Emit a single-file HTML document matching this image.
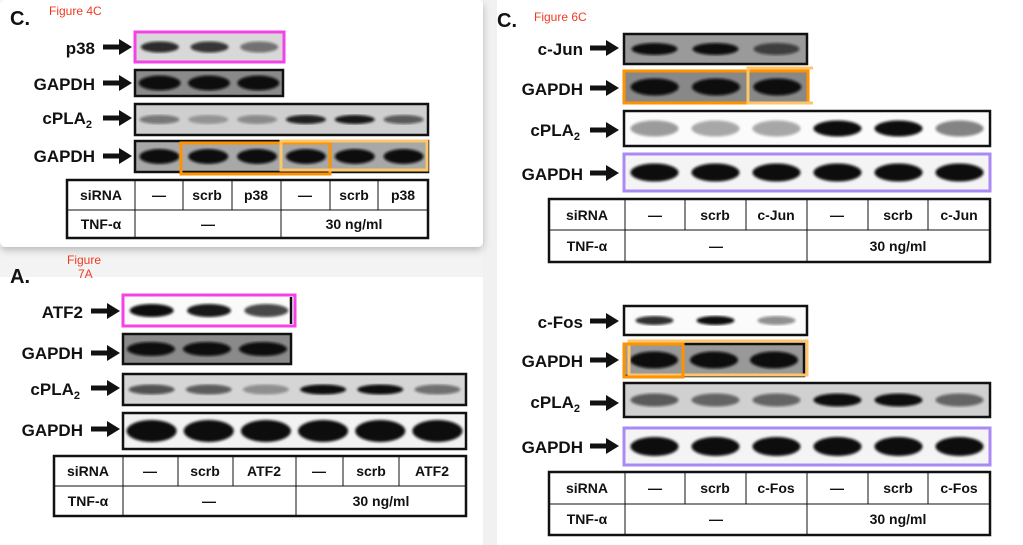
<!DOCTYPE html>
<html><head><meta charset="utf-8"><style>
body{margin:0;width:1023px;height:545px;background:#fff;overflow:hidden;font-family:"Liberation Sans",Arial,sans-serif}
svg{position:absolute;left:0;top:0}
.l{font-weight:bold;font-size:17px;text-anchor:end;fill:#111}
.t{font-weight:bold;font-size:14px;text-anchor:middle;fill:#111}
.r{fill:#f03a20;font-size:12px}
.h{font-weight:bold;font-size:20px;fill:#111}
</style></head><body>
<svg width="1023" height="545" viewBox="0 0 1023 545" xmlns="http://www.w3.org/2000/svg">
<defs>
<filter id="sh" x="-5%" y="-5%" width="110%" height="120%"><feDropShadow dx="0" dy="3" stdDeviation="4" flood-color="#000" flood-opacity="0.25"/></filter>
<filter id="bl"><feGaussianBlur stdDeviation="1.2"/></filter>
</defs>
<rect x="483" y="0" width="14" height="545" fill="#f1f1f1"/>
<rect x="0" y="247" width="483" height="30" fill="#f3f3f3"/>
<g><text class="r" x="67" y="264">Figure</text><text class="r" x="78" y="278">7A</text></g>
<rect x="0" y="0" width="483" height="247" rx="6" fill="#fff" filter="url(#sh)"/>
<g id="bands"></g>
<g id="frames" fill="none" stroke="#111" stroke-width="2.5">
 <rect x="135" y="70" width="148" height="26"/>
 <rect x="135" y="104" width="293" height="31"/>
 <rect x="135" y="141" width="293" height="31"/>
 <rect x="123" y="334" width="168" height="30"/>
 <rect x="123" y="374" width="343" height="31"/>
 <rect x="123" y="413" width="343" height="36"/>
 <line x1="291" y1="297" x2="291" y2="324"/>
 <rect x="624" y="34" width="183" height="30"/>
 <rect x="624" y="111" width="366" height="35"/>
 <rect x="624" y="306" width="183" height="29"/>
 <rect x="624" y="383" width="366" height="34"/>
 <rect x="624" y="344" width="180" height="32"/>
</g>
<g fill="none" stroke-width="3">
 <rect x="135" y="32" width="149" height="30" stroke="#f542e8"/>
 <rect x="181" y="143" width="149" height="31" stroke="#ff9200"/>
 <rect x="281" y="141" width="146" height="29" stroke="#fdc66a"/>
 <rect x="123" y="295" width="172" height="31" stroke="#f542e8"/>
 <rect x="624" y="71" width="184" height="32" stroke="#ff9200"/>
 <path d="M813,68 H748 V103 H813" stroke="#fdc66a"/>
 <rect x="624" y="154" width="366" height="37" stroke="#a98af5"/>
 <rect x="629" y="341" width="178" height="34" stroke="#fdc66a"/>
 <rect x="624" y="344" width="59" height="33" stroke="#ff9200"/>
 <rect x="624" y="428" width="366" height="37" stroke="#a98af5"/>
</g>
<g id="arrows" fill="#111"></g>
<text class="h" x="10" y="25">C.</text><text class="r" x="49" y="15">Figure 4C</text>
<text class="h" x="10" y="283">A.</text>
<text class="h" x="497" y="27">C.</text><text class="r" x="534" y="21">Figure 6C</text>
<text class="l" x="95" y="54">p38</text><text class="l" x="95" y="90">GAPDH</text>
<text class="l" x="92" y="124">cPLA<tspan font-size="11" dy="4">2</tspan></text><text class="l" x="95" y="162">GAPDH</text>
<text class="l" x="83" y="318">ATF2</text><text class="l" x="83" y="359">GAPDH</text>
<text class="l" x="80" y="395">cPLA<tspan font-size="11" dy="4">2</tspan></text><text class="l" x="83" y="436">GAPDH</text>
<text class="l" x="583" y="55">c-Jun</text><text class="l" x="583" y="95">GAPDH</text>
<text class="l" x="580" y="136">cPLA<tspan font-size="11" dy="4">2</tspan></text><text class="l" x="583" y="180">GAPDH</text>
<text class="l" x="583" y="328">c-Fos</text><text class="l" x="583" y="367">GAPDH</text>
<text class="l" x="580" y="408">cPLA<tspan font-size="11" dy="4">2</tspan></text><text class="l" x="583" y="453">GAPDH</text>
<g fill="none" stroke="#111">
 <rect x="67" y="180" width="361" height="58" stroke-width="2.5"/>
 <path d="M67,210H428M135,180V238M183,180V210M232,180V210M281,180V238M330,180V210M378,180V210" stroke-width="1"/>
 <rect x="54" y="456" width="412" height="60" stroke-width="2.5"/>
 <path d="M54,486H466M123,456V516M178,456V486M233,456V486M296,456V516M343,456V486M399,456V486" stroke-width="1"/>
 <rect x="549" y="199" width="441" height="63" stroke-width="2.5"/>
 <path d="M549,230H990M625,199V262M685,199V230M746,199V230M807,199V262M868,199V230M928,199V230" stroke-width="1"/>
 <rect x="549" y="472" width="441" height="63" stroke-width="2.5"/>
 <path d="M549,504H990M625,472V535M685,472V504M746,472V504M807,472V535M868,472V504M928,472V504" stroke-width="1"/>
</g>
<g class="t">
 <text x="101" y="200">siRNA</text><text x="159" y="200">—</text><text x="207" y="200">scrb</text><text x="256" y="200">p38</text><text x="305" y="200">—</text><text x="354" y="200">scrb</text><text x="403" y="200">p38</text>
 <text x="101" y="229">TNF-α</text><text x="208" y="229">—</text><text x="354" y="229">30 ng/ml</text>
 <text x="88" y="476">siRNA</text><text x="150" y="476">—</text><text x="205" y="476">scrb</text><text x="264" y="476">ATF2</text><text x="319" y="476">—</text><text x="371" y="476">scrb</text><text x="432" y="476">ATF2</text>
 <text x="88" y="506">TNF-α</text><text x="209" y="506">—</text><text x="381" y="506">30 ng/ml</text>
 <text x="587" y="220">siRNA</text><text x="655" y="220">—</text><text x="715" y="220">scrb</text><text x="776" y="220">c-Jun</text><text x="837" y="220">—</text><text x="898" y="220">scrb</text><text x="959" y="220">c-Jun</text>
 <text x="587" y="251">TNF-α</text><text x="716" y="251">—</text><text x="898" y="251">30 ng/ml</text>
 <text x="587" y="493">siRNA</text><text x="655" y="493">—</text><text x="715" y="493">scrb</text><text x="776" y="493">c-Fos</text><text x="837" y="493">—</text><text x="898" y="493">scrb</text><text x="959" y="493">c-Fos</text>
 <text x="587" y="524">TNF-α</text><text x="716" y="524">—</text><text x="898" y="524">30 ng/ml</text>
</g>
</svg>
<script>
var B=[
[135,32,149,30,"#d8d8d8",3,38,11,[.85,.8,.5]],
[135,70,148,26,"#8a8a8a",3,42,15,[1,1,1]],
[135,104,293,31,"#cfcfcf",6,40,9,[.45,.3,.35,.9,.95,.6]],
[135,141,293,31,"#a8a8a8",6,40,15,[1,1,1,1,1,1]],
[123,295,172,31,"#fafafa",3,44,13,[1,.95,.75]],
[123,334,168,30,"#8a8a8a",3,48,14,[1,1,1]],
[123,374,343,31,"#d5d5d5",6,46,10,[.65,.6,.35,1,1,.5]],
[123,413,343,36,"#f2f2f2",6,50,22,[1,1,1,1,1,1]],
[624,34,183,30,"#9a9a9a",3,46,12,[1,1,.65]],
[624,71,184,32,"#888",3,48,17,[1,1,1]],
[624,111,366,35,"#fbfbfb",6,48,16,[.4,.35,.35,1,1,.5]],
[624,154,366,37,"#f4f4f4",6,48,18,[1,1,1,1,1,1]],
[624,306,183,29,"#fbfbfb",3,38,9,[.85,1,.45]],
[624,344,180,32,"#999",3,48,17,[1,1,1]],
[624,383,366,34,"#d0d0d0",6,48,13,[.6,.55,.55,1,1,.55]],
[624,428,366,37,"#f4f4f4",6,48,19,[1,1,1,1,1,1]]];
var g=document.getElementById('bands'),s='';
B.forEach(function(b){s+='<rect x="'+b[0]+'" y="'+b[1]+'" width="'+b[2]+'" height="'+b[3]+'" fill="'+b[4]+'"/>';
var lw=b[2]/b[5];for(var i=0;i<b[5];i++){var cx=b[0]+lw*(i+.5),cy=b[1]+b[3]/2;
s+='<ellipse cx="'+cx+'" cy="'+cy+'" rx="'+b[6]/2+'" ry="'+b[7]/2+'" fill="#0a0a0a" opacity="'+b[8][i]+'" filter="url(#bl)"/>';}});
g.innerHTML=s;
var A=[[103,47],[103,83],[103,118],[103,156],[91,311],[91,353],[91,388],[91,429],[590,48],[590,88],[590,130],[590,173],[590,321],[590,360],[590,403],[590,446]],a='';
A.forEach(function(p){var x=p[0],y=p[1];a+='<path d="M'+x+','+(y-2.5)+'H'+(x+16)+'V'+(y-8)+'L'+(x+29)+','+y+'L'+(x+16)+','+(y+8)+'V'+(y+2.5)+'H'+x+'Z"/>';});
document.getElementById('arrows').innerHTML=a;
</script>
</body></html>
